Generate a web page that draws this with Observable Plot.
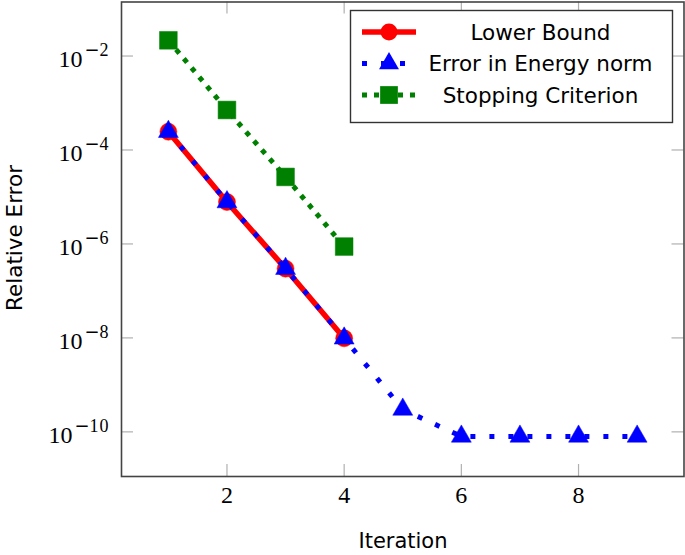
<!DOCTYPE html>
<html><head><meta charset="utf-8">
<script src="https://cdn.jsdelivr.net/npm/d3@7"></script>
<script src="https://cdn.jsdelivr.net/npm/@observablehq/plot@0.6"></script>
<style>body{margin:0;background:#fff} #chart{width:685px;height:555px}</style>
</head><body><div id="chart"></div>
<script>
// ---- data ----
const iterations = [1, 2, 3, 4, 5, 6, 7, 8, 9];
const lowerBound = [2.45e-4, 7.8e-6, 2.98e-7, 9.8e-9];
const energyError = [2.45e-4, 7.8e-6, 2.98e-7, 9.8e-9, 3.0e-10, 8.0e-11, 8.0e-11, 8.0e-11, 8.0e-11];
const stopping = [2.16e-2, 7.1e-4, 2.67e-5, 8.8e-7];
const seriesNames = ["Lower Bound", "Error in Energy norm", "Stopping Criterion"];
const xTicks = [2, 4, 6, 8];
const yTicks = [1e-10, 1e-8, 1e-6, 1e-4, 1e-2];
const xLabel = "Iteration";
const yLabel = "Relative Error";

const toRows = (vals) => vals.map((v, i) => ({x: iterations[i], y: v}));
const red = toRows(lowerBound), blue = toRows(energyError), green = toRows(stopping);

const W = 685, H = 555, mL = 121, mR = 1.5, mT = 1.5, mB = 79;
const pw = W - mL - mR, ph = H - mT - mB;
const serif = "'Liberation Serif', 'DejaVu Serif', serif";
const sans = "'DejaVu Sans', sans-serif";
const tickCol = "#b0b0b0";

const plot = Plot.plot({
  width: W, height: H,
  marginLeft: mL, marginRight: mR, marginTop: mT, marginBottom: mB,
  style: {fontFamily: serif, background: "#fff"},
  x: {domain: [0.2, 9.8], label: null},
  y: {type: "log", domain: [Math.pow(10, -10.95), Math.pow(10, -0.85)], label: null},
  marks: [
    // inner tick marks on all four sides
    Plot.tickY(yTicks, {y: d => d, stroke: tickCol, strokeWidth: 1.2, insetRight: pw - 12}),
    Plot.tickY(yTicks, {y: d => d, stroke: tickCol, strokeWidth: 1.2, insetLeft: pw - 12}),
    Plot.tickX(xTicks, {x: d => d, stroke: tickCol, strokeWidth: 1.2, insetTop: ph - 12}),
    Plot.tickX(xTicks, {x: d => d, stroke: tickCol, strokeWidth: 1.2, insetBottom: ph - 12}),
    Plot.axisX({ticks: xTicks, tickSize: 0, tickPadding: 9, fontSize: 24, label: null, tickFormat: d => String(d)}),
    Plot.axisY({ticks: yTicks, tickSize: 0, tickPadding: 12, fontSize: 24, dy: 3, label: null,
      tickFormat: d => String(Math.round(Math.log10(d)))}),
    // series
    Plot.line(red, {x: "x", y: "y", stroke: "#ff0000", strokeWidth: 5.5}),
    Plot.dot(red, {x: "x", y: "y", r: 8.5, fill: "#ff0000", stroke: "#ff0000", strokeWidth: 0.5}),
    Plot.line(blue, {x: "x", y: "y", stroke: "#0000ff", strokeWidth: 5, strokeDasharray: "5,14", strokeLinecap: "butt"}),
    Plot.dot(blue, {x: "x", y: "y", symbol: "triangle", r: 7.4, fill: "#0000ff", stroke: "#0000ff", strokeWidth: 0.5}),
    Plot.line(green, {x: "x", y: "y", stroke: "#008000", strokeWidth: 5, strokeDasharray: "5,7", strokeLinecap: "butt"}),
    Plot.dot(green, {x: "x", y: "y", symbol: "square", r: 10, fill: "#008000", stroke: "#008000", strokeWidth: 0.5}),
    Plot.frame({stroke: "#444", strokeWidth: 1.6})
  ]
});

// superscript exponent formatting for y tick labels: 10^{exp}
d3.select(plot).selectAll('g[aria-label="y-axis tick label"] text').each(function() {
  const digits = this.textContent.replace("-", "").replace("\u2212", "");
  const t = d3.select(this);
  t.text("10");
  t.append("tspan").attr("dy", "-0.6em").attr("dx", 2).attr("font-size", 18)
    .attr("font-family", "'DejaVu Sans', sans-serif").text("\u2212");
  t.append("tspan").attr("font-size", 18).attr("letter-spacing", 1).text(digits);
});

const svg = d3.select(plot);
// axis titles
svg.append("text").attr("x", 403).attr("y", 548).attr("text-anchor", "middle")
  .attr("font-family", sans).attr("font-size", 21).attr("fill", "#000").text(xLabel);
svg.append("text").attr("transform", `translate(21.5,238) rotate(-90)`).attr("text-anchor", "middle")
  .attr("font-family", sans).attr("font-size", 21.5).attr("fill", "#000").text(yLabel);

// legend inside the plot
const legColors = ["#ff0000", "#0000ff", "#008000"];
const legDash = [null, "5,14", "5,7"];
const legSym = [d3.symbolCircle, d3.symbolTriangle, d3.symbolSquare];
const legSize = [Math.PI * 8.5 * 8.5, Math.PI * 7.4 * 7.4, Math.PI * 10 * 10];
const lg = svg.append("g");
lg.append("rect").attr("x", 350.5).attr("y", 10.5).attr("width", 322).attr("height", 112)
  .attr("fill", "#fff").attr("stroke", "#333").attr("stroke-width", 1.4);
seriesNames.forEach((name, i) => {
  const cy = 32 + i * 31.5;
  const ln = lg.append("line").attr("x1", 362).attr("x2", 416).attr("y1", cy).attr("y2", cy)
    .attr("stroke", legColors[i]).attr("stroke-width", i === 0 ? 5.5 : 5);
  if (legDash[i]) ln.attr("stroke-dasharray", legDash[i]);
  lg.append("path").attr("transform", `translate(389,${cy})`).attr("d", d3.symbol(legSym[i], legSize[i])())
    .attr("fill", legColors[i]);
  lg.append("text").attr("x", 540.5).attr("y", cy).attr("dy", "0.35em").attr("text-anchor", "middle")
    .attr("font-family", sans).attr("font-size", 21.5).attr("fill", "#000").text(name);
});

document.getElementById("chart").append(plot);
</script></body></html>
